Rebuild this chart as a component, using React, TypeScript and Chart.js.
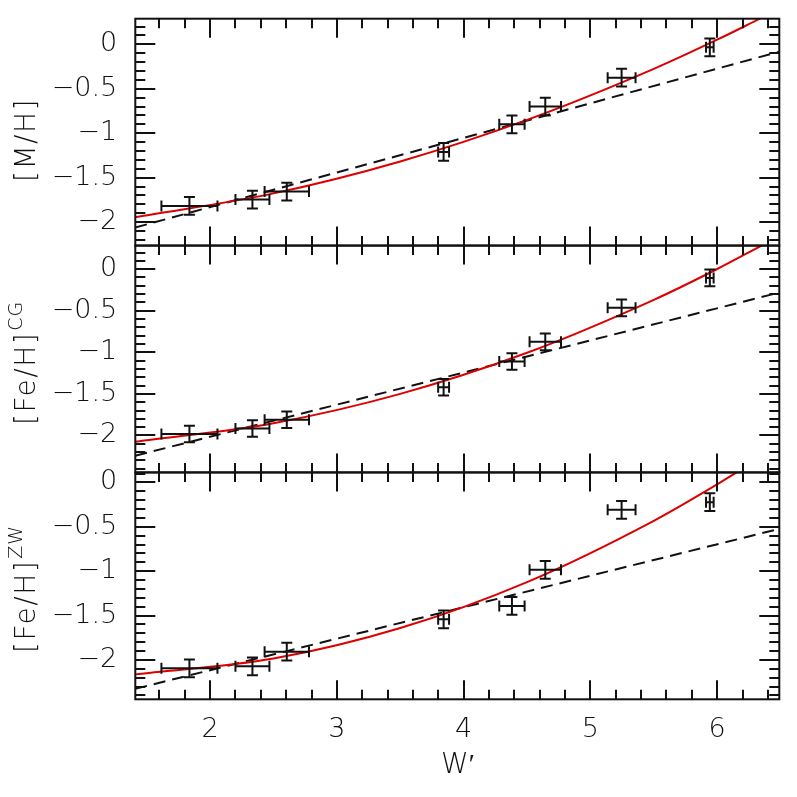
import React, { useEffect, useRef } from 'react';
import { Chart, registerables } from 'chart.js';

Chart.register(...registerables);

// ---- data ----
const wPrime = [1.837, 2.334, 2.605, 3.842, 4.381, 4.644, 5.246, 5.942];
const wPrimeErr = [0.221, 0.134, 0.175, 0.043, 0.1, 0.124, 0.11, 0.03];
const mhValues = [-1.817, -1.746, -1.656, -1.21, -0.9, -0.7, -0.375, -0.034];
const feCgValues = [-1.983, -1.916, -1.811, -1.42, -1.11, -0.874, -0.465, -0.105];
const feZwValues = [-2.095, -2.072, -1.907, -1.542, -1.392, -0.985, -0.308, -0.222];
const metalErr = [0.1, 0.1, 0.1, 0.1, 0.1, 0.1, 0.1, 0.1];

// quadratic fit curves (red)
const fitXMh = [1.41, 2.5, 3.5, 4.5, 5.5, 6.0, 6.337];
const fitMh = [-1.944, -1.676, -1.317, -0.85, -0.276, 0.052, 0.288];
const fitXCg = [1.41, 2.5, 3.5, 4.5, 5.5, 6.0, 6.35];
const fitCg = [-2.076, -1.853, -1.5, -1.006, -0.369, 0.002, 0.284];
const fitXZw = [1.41, 2.5, 3.5, 4.5, 5.5, 6.0, 6.153];
const fitZw = [-2.163, -1.985, -1.641, -1.123, -0.432, -0.021, 0.113];

// linear fits (dashed)
const linX = [1.41, 6.49];
const linMh = [-2.06, -0.083];
const linCg = [-2.244, -0.281];
const linZw = [-2.325, -0.523];

// axes
const xRange = [1.41, 6.49];
const xMajorTicks = [2, 3, 4, 5, 6];
const yMajorTicks = [-2, -1.5, -1, -0.5, 0];
const yRangeMh = [-2.263, 0.288];
const yRangeCg = [-2.445, 0.284];
const yRangeZw = [-2.444, 0.113];
const titles = ['[M/H]', '[Fe/H]', '[Fe/H]'];
const titleSups = ['', 'CG', 'ZW'];
const xTitle = 'W\u2032';

const FONT = 'DejaVu Sans';
const WEIGHT = '200';
const RED = '#dd0000';
const INK = '#111111';

function pts(xs: number[], ys: number[]) {
  return xs.map((x, i) => ({ x, y: ys[i] }));
}

export default function App() {
  const ref = useRef<HTMLCanvasElement>(null);

  useEffect(() => {
    if (!ref.current) return;
    const panels = [
      { id: 'y1', range: yRangeMh, vals: mhValues, fx: fitXMh, fy: fitMh, ly: linMh, titleStart: 182 },
      { id: 'y2', range: yRangeCg, vals: feCgValues, fx: fitXCg, fy: fitCg, ly: linCg, titleStart: 425 },
      { id: 'y3', range: yRangeZw, vals: feZwValues, fx: fitXZw, fy: fitZw, ly: linZw, titleStart: 653 },
    ];

    const datasets: any[] = [];
    panels.forEach((p) => {
      datasets.push({
        type: 'line',
        data: pts(p.fx, p.fy),
        yAxisID: p.id,
        borderColor: RED,
        borderWidth: 2,
        pointRadius: 0,
        cubicInterpolationMode: 'monotone',
        fill: false,
      });
      datasets.push({
        type: 'line',
        data: pts(linX, p.ly),
        yAxisID: p.id,
        borderColor: INK,
        borderWidth: 2,
        borderDash: [12, 7],
        pointRadius: 0,
        fill: false,
      });
      datasets.push({
        type: 'scatter',
        data: pts(wPrime, p.vals),
        yAxisID: p.id,
        pointRadius: 0,
        showLine: false,
      });
    });

    const yScale = (p: any, i: number) => ({
      type: 'linear',
      position: 'left',
      stack: 'panels',
      stackWeight: 1,
      weight: 3 - i,
      min: p.range[0],
      max: p.range[1],
      grid: { display: false, drawTicks: false },
      border: { display: false },
      afterBuildTicks: (s: any) => {
        s.ticks = yMajorTicks.map((v) => ({ value: v }));
      },
      afterFit: (s: any) => {
        s.width = 135.3;
        s.paddingTop = 0;
        s.paddingBottom = 0;
      },
      ticks: {
        color: INK,
        padding: 18,
        autoSkip: false,
        font: { family: FONT, size: 27, weight: WEIGHT },
        callback: (v: number) => (v === 0 ? '0' : '\u2212' + String(Math.abs(v))),
      },
    });

    const framePlugin = {
      id: 'frame',
      afterDatasetsDraw(chart: any) {
        const ctx = chart.ctx as CanvasRenderingContext2D;
        const xs = chart.scales.x;
        const L = xs.left;
        const R = xs.right;
        ctx.save();
        ctx.strokeStyle = INK;
        ctx.lineWidth = 2;
        ctx.lineCap = 'butt';
        panels.forEach((p, pi) => {
          const ys = chart.scales[p.id];
          const T = ys.top;
          const B = ys.bottom;
          // x ticks
          ctx.beginPath();
          for (let k = 8; k <= 32; k++) {
            const v = k / 5;
            if (v < xRange[0] || v > xRange[1]) continue;
            const major = k % 5 === 0;
            const len = major ? 19 : 9.5;
            const px = Math.round(xs.getPixelForValue(v));
            ctx.moveTo(px, B);
            ctx.lineTo(px, B - len);
            ctx.moveTo(px, T);
            ctx.lineTo(px, T + len);
          }
          // y ticks
          for (let k = -25; k <= 3; k++) {
            const v = k / 10;
            if (v < p.range[0] || v > p.range[1]) continue;
            const major = k % 5 === 0;
            const len = major ? 20 : 10;
            const py = Math.round(ys.getPixelForValue(v));
            ctx.moveTo(L, py);
            ctx.lineTo(L + len, py);
            ctx.moveTo(R, py);
            ctx.lineTo(R - len, py);
          }
          ctx.stroke();
          ctx.strokeRect(L, T, R - L, B - T);

          // error bars
          ctx.beginPath();
          const cap = 5.5;
          wPrime.forEach((xv, i) => {
            const yv = p.vals[i];
            const cx = xs.getPixelForValue(xv);
            const cy = ys.getPixelForValue(yv);
            const x0 = xs.getPixelForValue(xv - wPrimeErr[i]);
            const x1 = xs.getPixelForValue(xv + wPrimeErr[i]);
            const y0 = ys.getPixelForValue(yv - metalErr[i]);
            const y1 = ys.getPixelForValue(yv + metalErr[i]);
            ctx.moveTo(x0, cy); ctx.lineTo(x1, cy);
            ctx.moveTo(x0, cy - cap); ctx.lineTo(x0, cy + cap);
            ctx.moveTo(x1, cy - cap); ctx.lineTo(x1, cy + cap);
            ctx.moveTo(cx, y0); ctx.lineTo(cx, y1);
            ctx.moveTo(cx - cap, y0); ctx.lineTo(cx + cap, y0);
            ctx.moveTo(cx - cap, y1); ctx.lineTo(cx + cap, y1);
          });
          ctx.stroke();

          // y titles
          ctx.save();
          ctx.fillStyle = INK;
          ctx.translate(35, p.titleStart);
          ctx.rotate(-Math.PI / 2);
          ctx.textAlign = 'left';
          ctx.textBaseline = 'alphabetic';
          ctx.font = `${WEIGHT} 28px "${FONT}"`;
          (ctx as any).letterSpacing = '1.5px';
          ctx.fillText(titles[pi], 0, 0);
          const w = ctx.measureText(titles[pi]).width;
          if (titleSups[pi]) {
            ctx.font = `${WEIGHT} 19px "${FONT}"`;
            (ctx as any).letterSpacing = '1px';
            ctx.fillText(titleSups[pi], w + 1, -13);
          }
          ctx.restore();
        });
        // x title
        ctx.fillStyle = INK;
        ctx.font = `${WEIGHT} 28px "${FONT}"`;
        ctx.textAlign = 'center';
        ctx.textBaseline = 'alphabetic';
        ctx.fillText(xTitle, 458, 773);
        ctx.restore();
      },
    };

    const chart = new Chart(ref.current, {
      type: 'line',
      data: { datasets },
      options: {
        responsive: false,
        devicePixelRatio: 1,
        animation: false,
        layout: { padding: { left: 0, right: 17.7, top: 18.7, bottom: 0 } },
        plugins: { legend: { display: false }, tooltip: { enabled: false } },
        scales: {
          x: {
            type: 'linear',
            position: 'bottom',
            min: xRange[0],
            max: xRange[1],
            grid: { display: false, drawTicks: false },
            border: { display: false },
            afterBuildTicks: (s: any) => {
              s.ticks = xMajorTicks.map((v) => ({ value: v }));
            },
            afterFit: (s: any) => {
              s.height = 97.7;
              s.paddingLeft = 0;
              s.paddingRight = 0;
            },
            ticks: {
              color: INK,
              padding: 14,
              maxRotation: 0,
              autoSkip: false,
              font: { family: FONT, size: 27, weight: WEIGHT },
            },
          },
          y1: yScale(panels[0], 0),
          y2: yScale(panels[1], 1),
          y3: yScale(panels[2], 2),
        } as any,
      },
      plugins: [framePlugin],
    } as any);
    return () => chart.destroy();
  }, []);

  return (
    <div style={{ position: 'absolute', left: 0, top: 0, width: 797, height: 797, background: '#fff' }}>
      <canvas ref={ref} width={797} height={797} style={{ display: 'block', width: 797, height: 797 }} />
    </div>
  );
}
